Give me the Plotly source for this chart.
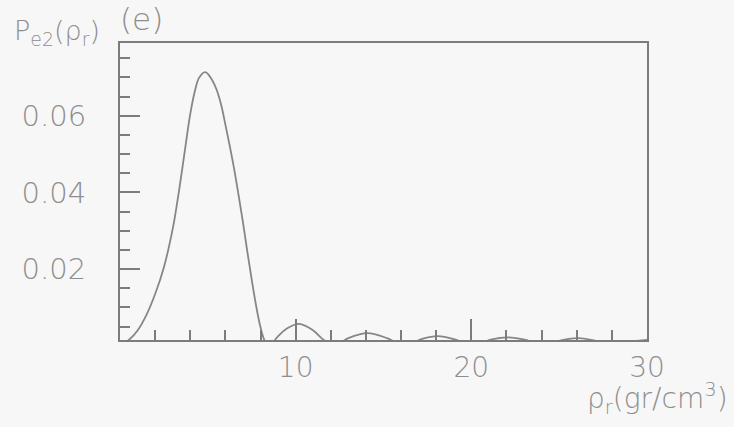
import plotly.graph_objects as go

# rho_r values (gr/cm^3) and P_e2 estimates
rho = [0, 0.5, 1, 1.5, 2, 2.5, 3, 3.25, 3.5, 3.75, 4, 4.25, 4.5, 4.85, 5.2, 5.5, 5.75,
       6, 6.25, 6.5, 6.75, 7, 7.25, 7.5, 7.75, 8, 8.25, 8.5,
       9, 9.5, 10.2, 11, 11.6, 12.2, 13, 14.1, 15.2, 16.2, 17.2, 18.1, 19.1, 20.1,
       21.1, 22.1, 23.1, 24.1, 25.1, 26.1, 27.1, 28.1, 29, 30]
p_e2 = [0.0, 0.0015, 0.0040, 0.0080, 0.0135, 0.0205, 0.0305, 0.0372, 0.0448, 0.0528,
        0.0605, 0.0662, 0.0699, 0.0714, 0.0697, 0.0668, 0.0630,
        0.0577, 0.0521, 0.0461, 0.0393, 0.0322, 0.0245, 0.0172, 0.0104, 0.0048, 0.0012, 0.0,
        0.0025, 0.0045, 0.0057, 0.0040, 0.0015, 0.0, 0.0020, 0.0033, 0.0020, 0.0,
        0.0018, 0.0025, 0.0016, 0.0, 0.0016, 0.0022, 0.0015, 0.0, 0.0014, 0.0020,
        0.0013, 0.0, 0.0010, 0.0015]

x_tickvals = [10, 20, 30]
x_ticktext = ["10", "20", "30"]
y_tickvals = [0.02, 0.04, 0.06]
y_ticktext = ["0.02", "0.04", "0.06"]

LINE = "#7c7c7c"
TEXT = "#8e8e8e"
BG = "#f7f7f7"
FONT = "DejaVu Sans"

fig = go.Figure()
fig.add_trace(go.Scatter(x=rho, y=p_e2, mode="lines",
                         line=dict(color="#868686", width=1.8, shape="spline", smoothing=1.0),
                         showlegend=False, hoverinfo="skip"))

fig.update_layout(
    width=734, height=427,
    margin=dict(l=120, r=87, t=43, b=87),
    paper_bgcolor=BG, plot_bgcolor=BG,
    font=dict(family=FONT, color=TEXT, size=29),
    xaxis=dict(range=[0, 30], tickvals=x_tickvals, ticktext=x_ticktext,
               ticks="inside", ticklen=21, tickwidth=1.5, tickcolor=LINE,
               minor=dict(dtick=2, tick0=0, ticks="inside", ticklen=10, tickwidth=1.5, tickcolor=LINE),
               showline=True, linecolor=LINE, linewidth=2, mirror=True,
               showgrid=False, zeroline=False,
               ticklabelstandoff=1,
               tickfont=dict(family=FONT, size=28, color=TEXT, weight=200)),
    yaxis=dict(range=[0.0015, 0.079], tickvals=y_tickvals, ticktext=y_ticktext,
               ticks="inside", ticklen=20, tickwidth=1.5, tickcolor=LINE,
               minor=dict(dtick=0.005, tick0=0, ticks="inside", ticklen=10, tickwidth=1.5, tickcolor=LINE),
               showline=True, linecolor=LINE, linewidth=2, mirror=True,
               showgrid=False, zeroline=False,
               ticklabelstandoff=26,
               tickfont=dict(family=FONT, size=29, color=TEXT, weight=200)),
)

fig.add_annotation(text="ρ<sub>r</sub>(gr/cm<sup>3</sup>)", xref="paper", yref="paper",
                   x=1.157, y=-0.272, xanchor="right", yanchor="bottom", showarrow=False,
                   font=dict(family=FONT, size=28, color=TEXT, weight=200))
fig.add_annotation(text="P<sub>e2</sub>(ρ<sub>r</sub>)", xref="paper", yref="paper",
                   x=-0.205, y=1.034, xanchor="left", yanchor="middle", showarrow=False,
                   font=dict(family=FONT, size=27, color=TEXT, weight=200))
fig.add_annotation(text="(e)", xref="paper", yref="paper",
                   x=-0.004, y=1.08, xanchor="left", yanchor="middle", showarrow=False,
                   font=dict(family=FONT, size=31, color=TEXT, weight=200))

fig.write_html("out.html")
